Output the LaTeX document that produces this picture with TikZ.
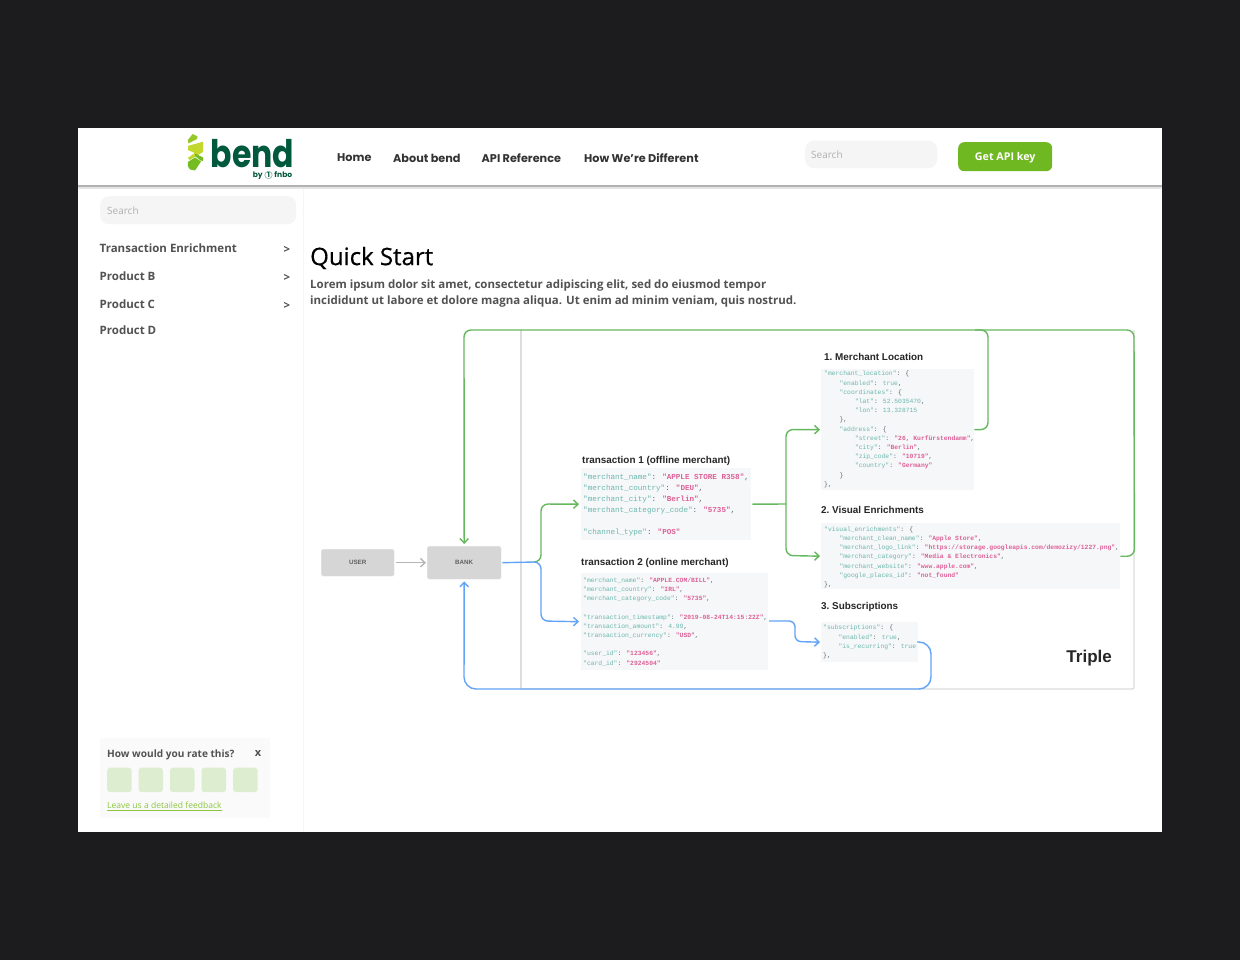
\documentclass[tikz,border=0pt]{standalone}
\usepackage{fontspec}
\setmainfont{Open Sans}
\newfontfamily\navfont{Poppins}
\newfontfamily\diafont{Liberation Sans}
\newfontfamily\titlefont[FakeBold=0.5]{Open Sans}
\newfontfamily\logofont{Poppins}
\newfontfamily\codefont{Liberation Mono}
\definecolor{pagebg}{HTML}{1C1C1E}
\definecolor{txt}{HTML}{525252}
\definecolor{searchbg}{HTML}{F5F5F5}
\definecolor{searchtxt}{HTML}{B0B0B0}
\definecolor{btn}{HTML}{70B821}
\definecolor{rate}{HTML}{DDEDCF}
\definecolor{feedback}{HTML}{8CC63F}
\definecolor{codebg}{HTML}{F5F7F8}
\definecolor{ckey}{HTML}{6DB7AF}
\definecolor{cval}{HTML}{DE6098}
\definecolor{cpun}{HTML}{5A6368}
\definecolor{flowg}{HTML}{66B85F}
\definecolor{flowb}{HTML}{62A4F7}
\definecolor{flowgray}{HTML}{B5B5B5}
\definecolor{frame}{HTML}{DDDDDD}
\definecolor{actor}{HTML}{D6D6D6}
\definecolor{logod}{HTML}{00593C}
\definecolor{lime}{HTML}{C3D82E}
\definecolor{leaf}{HTML}{74BC22}
\newcommand{\kk}[1]{\textcolor{ckey}{#1}}
\newcommand{\vv}[1]{\textcolor{cval}{\bfseries #1}}
\newcommand{\pp}[1]{\textcolor{cpun}{#1}}
\newcommand{\ii}{\hspace*{15.4pt}}
\newcommand{\kv}[2]{\kk{"#1"}\pp{: }\vv{"#2"}}
\usetikzlibrary{arrows.meta,calc}
\tikzset{
  x=1pt,y=-1pt,
  searchbox/.style={fill=searchbg,draw=none,rounded corners=9pt,anchor=north west,inner sep=0},
  searchlabel/.style={anchor=west,inner sep=0,text=searchtxt,font=\fontsize{10}{12}\selectfont},
  navlabel/.style={anchor=west,inner sep=0,text=black!80,font=\navfont\fontsize{11.25}{13}\selectfont\bfseries},
  menulabel/.style={anchor=west,inner sep=0,text=txt,font=\fontsize{11.5}{13}\selectfont\bfseries},
  chevron/.style={anchor=center,inner sep=0,text=txt,font=\fontsize{11.5}{12}\selectfont\bfseries},
  ratebox/.style={fill=rate,rounded corners=3pt,anchor=north west,inner sep=0,minimum width=24.5pt,minimum height=24.5pt},
  codebox/.style={fill=codebg,anchor=north west,inner sep=0},
  codea/.style={anchor=north west,inner sep=0,align=left,font=\codefont\fontsize{7.6}{11.15}\selectfont},
  codeb/.style={anchor=north west,inner sep=0,align=left,font=\codefont\fontsize{6.35}{9.2}\selectfont},
  heading/.style={anchor=west,inner sep=0,text=black!85,font=\diafont\fontsize{9.9}{12}\selectfont\bfseries},
  actorbox/.style={fill=actor,draw=black!5,rounded corners=1.5pt,anchor=north west,inner sep=0,text=black!62,font=\diafont\fontsize{6.2}{8}\selectfont\bfseries,align=center},
  flow/.style={line width=1.4pt,rounded corners=7pt},
  flowgreen/.style={flow,draw=flowg},
  flowblue/.style={flow,draw=flowb},
  tip/.style={-{Straight Barb[length=4.5pt,width=8.5pt,line width=1.4pt]}},
}
\begin{document}
\begin{tikzpicture}
\useasboundingbox (0,0) rectangle (1240,960);
\fill[pagebg] (0,0) rectangle (1240,960);
\fill[white] (78,128) rectangle (1162,832);
% header shadow and sidebar edge
\fill[black!30] (78,185.4) rectangle (1162,187.4);
\fill[black!10] (78,187.4) rectangle (1162,188.8);
\draw[black!4,line width=.8pt] (303,189) -- (303,832);
% logo
\fill[leaf!60!lime] (187.8,140) -- (192.7,134) -- (197.5,136.5) -- (197,139) -- (188.5,143.5) -- cycle;
\fill[lime] (187.8,146) -- (203,141.7) -- (203,152) -- (189.7,160) -- (187.8,158) -- (194.7,153) -- (187.8,150) -- cycle;
\fill[leaf] (195,153.5) -- (203,157.5) -- (203,161) -- (200.5,160.5) -- (195,156) -- cycle;
\fill[leaf] (187.8,162) -- (195,157.5) -- (201,161.5) -- (195,170.5) -- (190,169.5) -- (187.8,166) -- cycle;
\node[anchor=base west,inner sep=0,text=logod,font=\logofont\fontsize{38}{40}\selectfont\bfseries] (logoword) at (210.5,168) {\scalebox{.83}[1]{bend}};
\node[anchor=base east,inner sep=0,text=logod,font=\logofont\fontsize{7.6}{10}\selectfont\bfseries] (logosub) at (292.5,177.5) {by \textcircled{\raisebox{0pt}{\scriptsize 1}} fnbo};
% navigation
\node[navlabel] (navhome) at (337,158) {Home};
\node[navlabel] (navabout) at (393,158) {About bend};
\node[navlabel] (navapi) at (481.5,158) {API Reference};
\node[navlabel] (navdiff) at (584,158) {How We’re Different};
\node[searchbox,minimum width=132pt,minimum height=27.5pt] (topsearch) at (805,140.5) {};
\node[searchlabel] (topsearchl) at (811,154.5) {Search};
\node[fill=btn,rounded corners=6pt,anchor=north west,inner sep=0,minimum width=94pt,minimum height=29pt,text=white,text depth=0pt,font=\fontsize{10.7}{12}\selectfont\bfseries] (apikey) at (958,142) {Get API key};
% sidebar
\node[searchbox,minimum width=196pt,minimum height=28pt] (sidesearch) at (100,196) {};
\node[searchlabel] (sidesearchl) at (107,210.5) {Search};
\node[menulabel] (m1) at (99.5,248) {Transaction Enrichment};
\node[menulabel] (m2) at (99.5,276) {Product B};
\node[menulabel] (m3) at (99.5,304) {Product C};
\node[menulabel] (m4) at (99.5,330) {Product D};
\node[chevron] (c1) at (287,249.5) {>};
\node[chevron] (c2) at (287,277.5) {>};
\node[chevron] (c3) at (287,305.5) {>};
% feedback
\node[fill=black!2,anchor=north west,inner sep=0,minimum width=170pt,minimum height=80pt] (fb) at (100,738) {};
\node[anchor=west,inner sep=0,text=txt,font=\fontsize{10.1}{12}\selectfont\bfseries] (fbq) at (107,754.5) {How would you rate this?};
\node[anchor=center,inner sep=0,text=txt,font=\fontsize{11}{12}\selectfont\bfseries] (fbx) at (258,753.5) {x};
\node[ratebox] (r1) at (107,767.5) {};
\node[ratebox] (r2) at (138.3,767.5) {};
\node[ratebox] (r3) at (169.8,767.5) {};
\node[ratebox] (r4) at (201.3,767.5) {};
\node[ratebox] (r5) at (233,767.5) {};
\node[anchor=west,inner sep=0,text=feedback,font=\fontsize{8.55}{10}\selectfont] (fbl) at (107,806) {\underline{Leave us a detailed feedback}};
% title
\node[anchor=west,inner sep=0,text=black,font=\titlefont\fontsize{24}{28}\selectfont] (title) at (310,258) {Quick Start};
\node[anchor=north west,inner sep=0,align=left,text=txt,font=\fontsize{11.47}{15.8}\selectfont\bfseries] (lorem) at (310,279.5) {Lorem ipsum dolor sit amet, consectetur adipiscing elit, sed do eiusmod tempor\\incididunt ut labore et dolore magna aliqua. Ut enim ad minim veniam, quis nostrud.};
% diagram frame
\coordinate (ftl) at (521,330);
\coordinate (fbl2) at (521,689);
\coordinate (fbr) at (1134,689);
\coordinate (ftr) at (1134,330);
\draw[frame,line width=1.4pt] (ftl) -- (fbl2);
\draw[frame,line width=1.4pt,rounded corners=2pt] (fbl2) -- (fbr) -- (ftr);
% code boxes
\node[codebox,minimum width=170pt,minimum height=72pt] (tx1) at (581,468) {};
\node[codebox,minimum width=187pt,minimum height=97pt] (tx2) at (581,573) {};
\node[codebox,minimum width=153pt,minimum height=121pt] (loc) at (821,369) {};
\node[codebox,minimum width=299pt,minimum height=66pt] (vis) at (821,523) {};
\node[codebox,minimum width=97pt,minimum height=40pt] (subs) at (821,622) {};
% headings
\node[heading] (h1) at (582,461) {transaction 1 (offline merchant)};
\node[heading] (h2) at (581,563) {transaction 2 (online merchant)};
\node[heading] (h3) at (824,357) {1.\ Merchant Location};
\node[heading] (h4) at (821,509.5) {2.\ Visual Enrichments};
\node[heading] (h5) at (821,606.5) {3.\ Subscriptions};
\node[anchor=east,inner sep=0,text=black!85,font=\diafont\fontsize{17}{20}\selectfont\bfseries] (triple) at (1112,658) {Triple};
% code
\node[codea] (c-tx1) at (583,473.5) {\kv{merchant\_name}{APPLE STORE R358}\pp{,}\\
\kv{merchant\_country}{DEU}\pp{,}\\
\kv{merchant\_city}{Berlin}\pp{,}\\
\kv{merchant\_category\_code}{5735}\pp{,}\\[11.15pt]
\kv{channel\_type}{POS}};
\node[codeb] (c-tx2) at (583,577.5) {\kv{merchant\_name}{APPLE.COM/BILL}\pp{,}\\
\kv{merchant\_country}{IRL}\pp{,}\\
\kv{merchant\_category\_code}{5735}\pp{,}\\[9.2pt]
\kv{transaction\_timestamp}{2019-08-24T14:15:22Z}\pp{,}\\
\kk{"transaction\_amount"}\pp{: }\kk{4.99}\pp{,}\\
\kv{transaction\_currency}{USD}\pp{,}\\[9.2pt]
\kv{user\_id}{123456}\pp{,}\\
\kv{card\_id}{2924504}};
\node[codeb] (c-loc) at (824,371) {\kk{"merchant\_location"}\pp{: \{}\\
\ii\kk{"enabled"}\pp{: }\kk{true}\pp{,}\\
\ii\kk{"coordinates"}\pp{: \{}\\
\ii\ii\kk{"lat"}\pp{: }\kk{52.5035470}\pp{,}\\
\ii\ii\kk{"lon"}\pp{: }\kk{13.328715}\\
\ii\pp{\},}\\
\ii\kk{"address"}\pp{: \{}\\
\ii\ii\kv{street}{26, Kurfürstendamm}\pp{,}\\
\ii\ii\kv{city}{Berlin}\pp{,}\\
\ii\ii\kv{zip\_code}{10719}\pp{,}\\
\ii\ii\kv{country}{Germany}\\
\ii\pp{\}}\\
\pp{\},}};
\node[codeb] (c-vis) at (824,526.5) {\kk{"visual\_enrichments"}\pp{: \{}\\
\ii\kv{merchant\_clean\_name}{Apple Store}\pp{,}\\
\ii\kv{merchant\_logo\_link}{https://storage.googleapis.com/demozizy/1227.png}\pp{,}\\
\ii\kv{merchant\_category}{Media \& Electronics}\pp{,}\\
\ii\kv{merchant\_website}{www.apple.com}\pp{,}\\
\ii\kv{google\_places\_id}{not\_found}\\
\pp{\},}};
\node[codeb] (c-sub) at (823,625) {\kk{"subscriptions"}\pp{: \{}\\
\ii\kk{"enabled"}\pp{: }\kk{true}\pp{,}\\
\ii\kk{"is\_recurring"}\pp{: }\kk{true}\\
\pp{\},}};
% actors
\node[actorbox,minimum width=73pt,minimum height=27pt] (user) at (321,549) {USER};
\node[actorbox,minimum width=74pt,minimum height=33pt] (bank) at (427,546) {BANK};
% connectors
\coordinate (split1) at (535,562);
\coordinate (split2) at (786,504);
\draw[flowgray,line width=1.1pt,tip] (user.east) ++(1.5,0) -- ($(bank.west)+(-1,0)$);
% green return lines
\draw[flowgreen,tip] (vis.east) -- ++(14,0) -- (1134,330) -- (464,330) -- ($(bank.north)+(0,-2)$);
\draw[flowgreen] (loc.east) -- (988,429.5) -- (988,330) -- (975,330);
% from bank
\draw[flowblue] ($(bank.east)+(1,0)$) -- (split1);
\draw[flowgreen,tip] (split1) -- (541,562) -- (541,504) -- ($(tx1.west)+(-2,0)$);
\draw[flowblue,tip] (split1) -- (541,562) -- (541,621) -- ($(tx2.west)+(-2,0)$ |- 0,621);
% from tx1
\draw[flowgreen] ($(tx1.east)+(1,0)$) -- (split2);
\draw[flowgreen,tip] (split2) -- (786,429.5) -- ($(loc.west)+(-1,0)$);
\draw[flowgreen,tip] (split2) -- (786,555.5) -- ($(vis.west)+(-1,0)$);
% tx2 to subs
\draw[flowblue,tip,rounded corners=6pt] (769,621) -- (795,621) -- (795,641.5) -- ($(subs.west)+(-1,0)$);
% blue return
\draw[flowblue,tip,rounded corners=12pt] (917,642) -- (931,642) -- (931,689) -- (464,689) -- ($(bank.south)+(0,2)$);
\end{tikzpicture}
\end{document}
